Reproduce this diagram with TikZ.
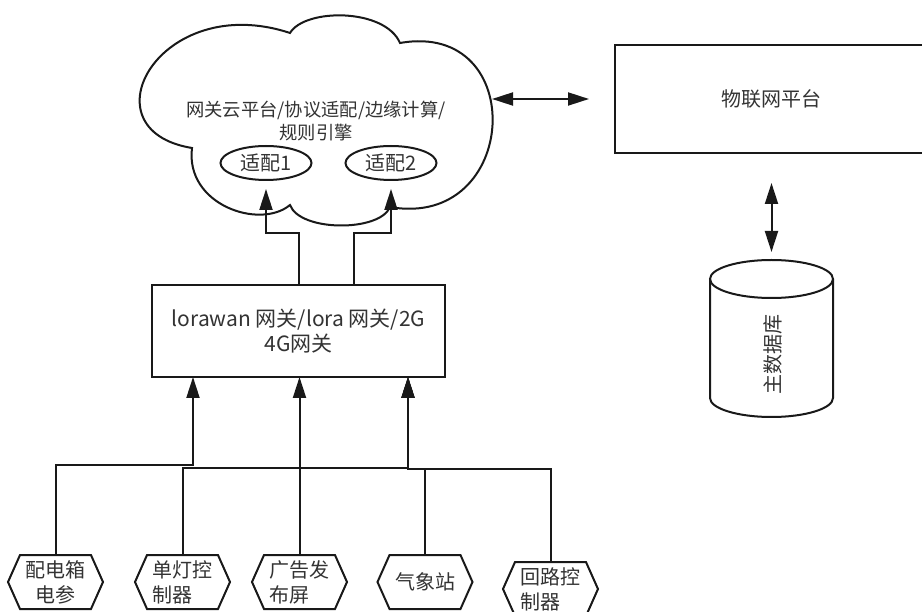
\documentclass[tikz,border=0pt]{standalone}
\usepackage{fontspec}
\newfontfamily\cjk{Noto Sans CJK SC}
\usepackage{tikz}
\usetikzlibrary{arrows.meta, shapes.geometric, shapes.symbols}

\begin{document}
\begin{tikzpicture}[x=1pt, y=-1pt,
    every node/.style={font=\cjk\fontsize{20pt}{25pt}\selectfont, text=black!80},
    line/.style={draw=black!90, line width=2pt},
    arr/.style={line, -{Triangle[length=21pt, width=13pt]}},
    dbl/.style={line, {Triangle[length=21pt, width=13pt]}-{Triangle[length=21pt, width=13pt]}},
    box/.style={rectangle, draw=black!90, line width=2pt, align=center},
    adapt/.style={ellipse, draw=black!90, line width=2pt, minimum width=91pt, minimum height=34pt, inner sep=0pt},
    device/.style={signal, signal to=east and west, signal pointer angle=132, draw=black!90, line width=2pt, minimum width=95pt, minimum height=54pt, inner sep=1pt}]
    \useasboundingbox (0,0) rectangle (922,612);
    \clip (0,0) rectangle (922,612);
    \fill[white] (0,0) rectangle (922,612);

    % Cloud platform
    \draw[line, fill=white] (192,148) .. controls (82,130) and (160,-10) .. (290,33)
        .. controls (305,8) and (385,8) .. (400,43)
        .. controls (530,20) and (520,230) .. (390,207)
        .. controls (380,232) and (300,232) .. (290,205)
        .. controls (260,230) and (185,205) .. (192,148) -- cycle;
    \node[align=center, font=\cjk\fontsize{18.3pt}{23pt}\selectfont] (cloud) at (316,121) {网关云平台/协议适配/边缘计算/\\规则引擎};
    \coordinate (cloudR) at (492,99);

    % Adapters
    \node[adapt] (ad1) at (266,163) {适配1};
    \node[adapt] (ad2) at (391,163) {适配2};

    % IoT platform
    \node[box, minimum width=313pt, minimum height=108pt] (iot) at (771.5,99) {物联网平台};
    \draw[dbl, shorten >=25pt] (cloudR) -- (iot.west);

    % Database
    \draw[line] (710,279) -- (710,398) arc[start angle=180, end angle=360, x radius=61.5pt, y radius=19pt] -- (833,279);
    \draw[line] (771.5,279) ellipse [x radius=61.5pt, y radius=19pt];
    \node[rotate=90] (db) at (773,355) {主数据库};
    \coordinate (dbtop) at (771.5,260);
    \draw[dbl, shorten <=29pt, shorten >=8pt] (iot) -- (dbtop);

    % Gateways
    \node[box, minimum width=293pt, minimum height=92pt, font=\cjk\fontsize{21pt}{25pt}\selectfont] (gw) at (298.5,331) {lorawan 网关/lora 网关/2G\\4G网关};
    \draw[arr, shorten >=8pt] (gw.north) -- ++(0,-51) -| (ad1.south);
    \draw[arr, shorten >=8pt] ([xshift=55pt]gw.north) -- ++(0,-51) -| (ad2.south);
    \coordinate (in1) at (193,377);
    \coordinate (in2) at (299.5,377);
    \coordinate (in3) at (408,377);

    % Devices
    \node[device, align=center] (h1) at (55.5,582) {配电箱\\电参};
    \node[device, align=left] (h2) at (182.5,582) {单灯控\\制器};
    \node[device, align=left] (h3) at (299.5,582) {广告发\\布屏};
    \node[device] (h4) at (425,582) {气象站};
    \node[device, align=left] (h5) at (550.5,589) {回路控\\制器};

    \draw[arr] (h1.north) -- (h1.north |- 0,465) -| (in1);
    \draw[arr] (h2.north) -- (h2.north |- 0,468) -| (in3);
    \draw[arr] (h3.north) -- (in2);
    \draw[arr] (h4.north) -- (h4.north |- 0,469) -| (in3);
    \draw[arr] (h5.north) -- (h5.north |- 0,469) -| (in3);
\end{tikzpicture}
\end{document}
